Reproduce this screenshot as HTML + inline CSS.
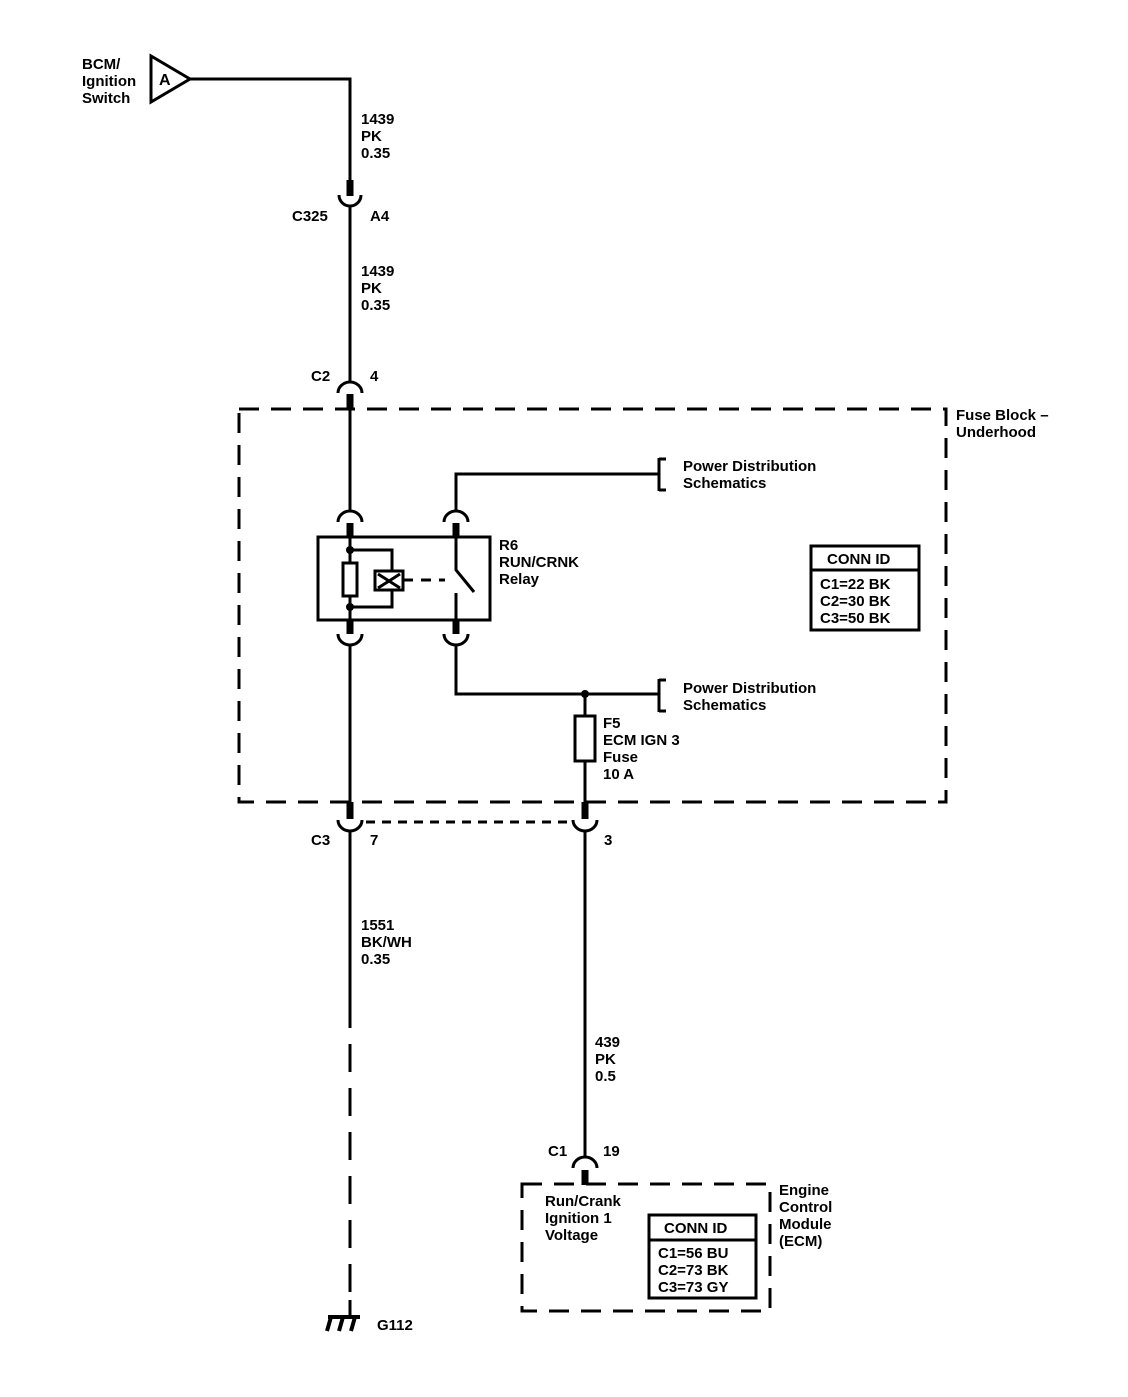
<!DOCTYPE html>
<html><head><style>body{margin:0;background:#fff}svg text{font-family:"Liberation Sans",Arial,sans-serif;font-size:15px;font-weight:bold;fill:#000}</style></head>
<body>
<svg width="1128" height="1392" viewBox="0 0 1128 1392" xmlns="http://www.w3.org/2000/svg">
<g fill="none" stroke="#000" stroke-width="3">
<!-- top -->
<polygon points="151,56 151,102 190,79"/>
<polyline points="190,79 350,79 350,183"/>
<line x1="350" y1="180" x2="350" y2="196" stroke-width="7"/>
<path d="M339,195 A11,11 0 0,0 361,195"/>
<line x1="350" y1="206" x2="350" y2="383"/>
<path d="M338,393 A12,11 0 0,1 362,393"/>
<line x1="350" y1="394" x2="350" y2="410" stroke-width="7"/>
<line x1="350" y1="410" x2="350" y2="512"/>
<!-- fuse block -->
<rect x="239" y="409" width="707" height="393" stroke-dasharray="20,12"/>
<!-- relay connectors -->
<path d="M338,522 A12,11 0 0,1 362,522"/>
<line x1="350" y1="523" x2="350" y2="537" stroke-width="7"/>
<path d="M444,522 A12,11 0 0,1 468,522"/>
<line x1="456" y1="523" x2="456" y2="537" stroke-width="7"/>
<polyline points="456,511 456,474 660,474"/>
<line x1="659" y1="458" x2="659" y2="491"/>
<line x1="659" y1="459" x2="666" y2="459"/><line x1="659" y1="490" x2="666" y2="490"/>
<rect x="318" y="537" width="172" height="83"/>
<line x1="350" y1="537" x2="350" y2="620"/>
<polyline points="350,550 392,550 392,607 350,607"/>
<rect x="343" y="563" width="14" height="33" fill="#fff"/>
<rect x="375" y="571" width="28" height="19" fill="#fff"/>
<path d="M378,574 L400,588 M378,588 L400,574"/>
<line x1="403" y1="580" x2="445" y2="580" stroke-dasharray="10,8"/>
<polyline points="456,537 456,570 474,592"/>
<line x1="456" y1="593" x2="456" y2="620"/>
<line x1="350" y1="620" x2="350" y2="634" stroke-width="7"/>
<path d="M338,634 A12,11 0 0,0 362,634"/>
<line x1="456" y1="620" x2="456" y2="634" stroke-width="7"/>
<path d="M444,634 A12,11 0 0,0 468,634"/>
<line x1="350" y1="645" x2="350" y2="818"/>
<polyline points="456,645 456,694 660,694"/>
<line x1="659" y1="679" x2="659" y2="712"/>
<line x1="659" y1="680" x2="666" y2="680"/><line x1="659" y1="711" x2="666" y2="711"/>
<line x1="585" y1="694" x2="585" y2="818"/>
<rect x="575" y="716" width="20" height="45" fill="#fff"/>
<!-- C3 -->
<line x1="350" y1="802" x2="350" y2="819" stroke-width="7"/>
<line x1="585" y1="802" x2="585" y2="819" stroke-width="7"/>
<path d="M338,820 A12,11 0 0,0 362,820"/>
<path d="M573,820 A12,11 0 0,0 597,820"/>
<line x1="366" y1="822" x2="572" y2="822" stroke-dasharray="9,7"/>
<line x1="350" y1="831" x2="350" y2="1000"/>
<line x1="350" y1="1000" x2="350" y2="1312" stroke-dasharray="28,16"/>
<line x1="350" y1="1300" x2="350" y2="1317"/>
<line x1="328" y1="1317" x2="360" y2="1317" stroke-width="4"/>
<path d="M331,1317 L327,1331 M343,1317 L339,1331 M355,1317 L351,1331" stroke-width="4"/>
<line x1="585" y1="831" x2="585" y2="1157"/>
<path d="M573,1168 A12,11 0 0,1 597,1168"/>
<line x1="585" y1="1170" x2="585" y2="1185" stroke-width="7"/>
<rect x="522" y="1184" width="248" height="127" stroke-dasharray="20,12"/>
<rect x="649" y="1215" width="107" height="83"/>
<line x1="649" y1="1240" x2="756" y2="1240"/>
<rect x="811" y="546" width="108" height="84"/>
<line x1="811" y1="570" x2="919" y2="570"/>
</g>
<circle cx="350" cy="550" r="4"/><circle cx="350" cy="607" r="4"/><circle cx="585" cy="694" r="4"/>
<text x="159" y="85" style="font-size:16px">A</text>
<text x="82" y="69">BCM/</text><text x="82" y="86">Ignition</text><text x="82" y="103">Switch</text>
<text x="361" y="124">1439</text><text x="361" y="141">PK</text><text x="361" y="158">0.35</text>
<text x="292" y="221">C325</text><text x="370" y="221">A4</text>
<text x="361" y="276">1439</text><text x="361" y="293">PK</text><text x="361" y="310">0.35</text>
<text x="311" y="381">C2</text><text x="370" y="381">4</text>
<text x="956" y="420">Fuse Block –</text><text x="956" y="437">Underhood</text>
<text x="683" y="471">Power Distribution</text><text x="683" y="488">Schematics</text>
<text x="499" y="550">R6</text><text x="499" y="567">RUN/CRNK</text><text x="499" y="584">Relay</text>
<text x="827" y="564">CONN ID</text>
<text x="820" y="589">C1=22 BK</text><text x="820" y="606">C2=30 BK</text><text x="820" y="623">C3=50 BK</text>
<text x="683" y="693">Power Distribution</text><text x="683" y="710">Schematics</text>
<text x="603" y="728">F5</text><text x="603" y="745">ECM IGN 3</text><text x="603" y="762">Fuse</text><text x="603" y="779">10 A</text>
<text x="311" y="845">C3</text><text x="370" y="845">7</text><text x="604" y="845">3</text>
<text x="361" y="930">1551</text><text x="361" y="947">BK/WH</text><text x="361" y="964">0.35</text>
<text x="595" y="1047">439</text><text x="595" y="1064">PK</text><text x="595" y="1081">0.5</text>
<text x="548" y="1156">C1</text><text x="603" y="1156">19</text>
<text x="545" y="1206">Run/Crank</text><text x="545" y="1223">Ignition 1</text><text x="545" y="1240">Voltage</text>
<text x="664" y="1233">CONN ID</text>
<text x="658" y="1258">C1=56 BU</text><text x="658" y="1275">C2=73 BK</text><text x="658" y="1292">C3=73 GY</text>
<text x="779" y="1195">Engine</text><text x="779" y="1212">Control</text><text x="779" y="1229">Module</text><text x="779" y="1246">(ECM)</text>
<text x="377" y="1330">G112</text>
</svg>
</body></html>
